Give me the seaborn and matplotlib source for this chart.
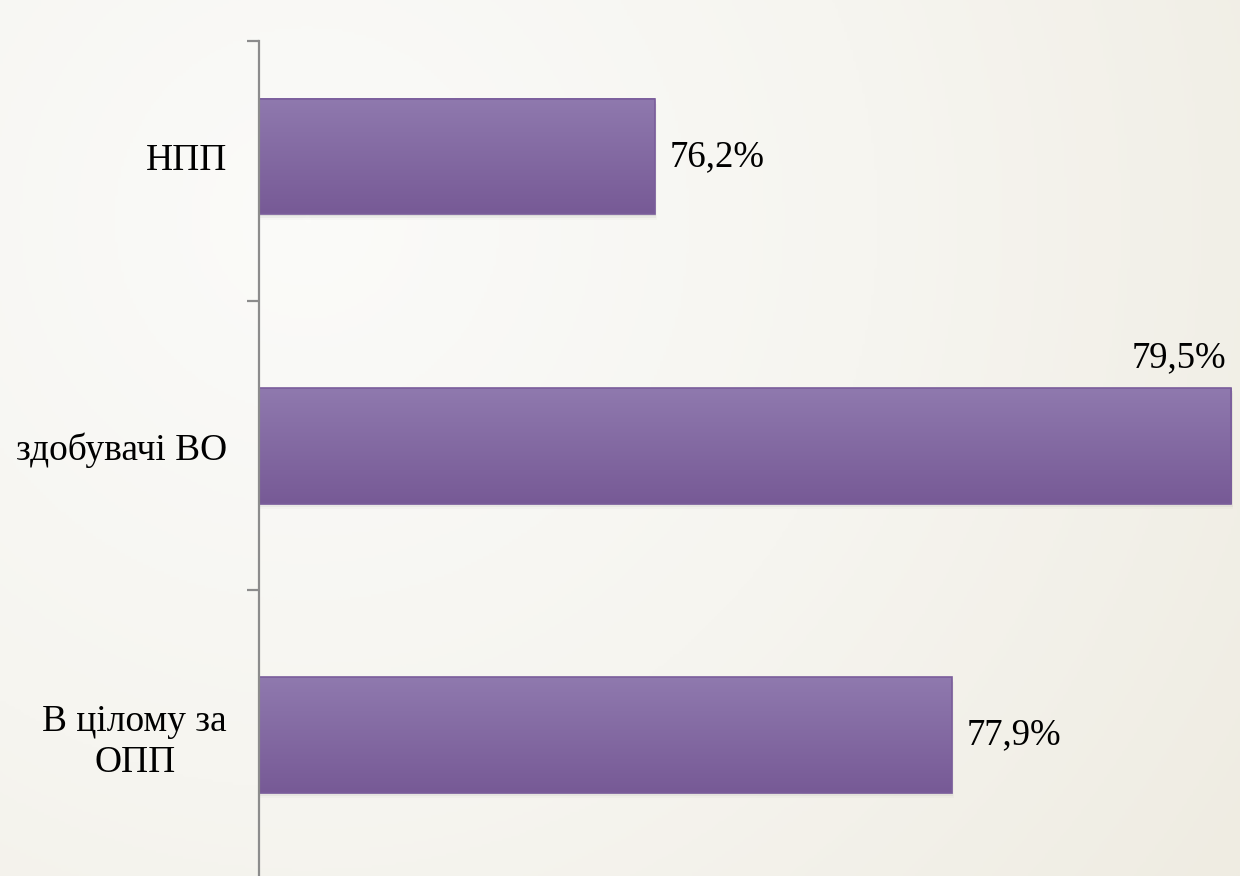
import numpy as np
import pandas as pd
import seaborn as sns
import matplotlib.pyplot as plt
from matplotlib.colors import LinearSegmentedColormap

# data
categories = ["НПП", "здобувачі ВО", "В цілому за\nОПП"]
values = [76.2, 79.5, 77.9]
value_labels = ["76,2%", "79,5%", "77,9%"]

df = pd.DataFrame({"category": categories, "value": values})

sns.set_theme(style="white")
plt.rcParams['font.family'] = ['Liberation Serif', 'DejaVu Serif']

fig = plt.figure(figsize=(12.4, 8.76), dpi=100)

# soft beige background with a light radial centre
bg = fig.add_axes([0, 0, 1, 1], zorder=-10)
yy, xx = np.mgrid[0:1:300j, 0:1.415:420j]
r = np.sqrt((xx - 0.35) ** 2 + (yy - 0.25) ** 2)
r = np.clip(r / r.max(), 0, 1)
bg_cmap = LinearSegmentedColormap.from_list("bg", ["#fbfbf9", "#f6f5f0", "#efece2"])
bg.imshow(r, cmap=bg_cmap, aspect="auto", extent=[0, 1, 1, 0])
bg.set_axis_off()

ax = fig.add_axes([259 / 1240, 0, 1 - 259 / 1240, (876 - 41) / 876])
ax.patch.set_alpha(0)

xmin, xmax = 73.933, 79.55

sns.barplot(data=df, x="value", y="category", orient="h", color="#82689f",
            width=0.4, ax=ax, saturation=1, edgecolor="none")

ax.set_xlim(xmin, xmax)
ax.set_ylim(2.488, -0.40)

# vertical purple gradient inside each bar, plus a faint shadow
grad = np.linspace(0, 1, 100).reshape(-1, 1)
bar_cmap = LinearSegmentedColormap.from_list("bar", ["#8f79ae", "#775a96"])
for p in list(ax.patches):
    x0, y0 = p.get_x(), p.get_y()
    w, h = p.get_width(), p.get_height()
    x1 = x0 + w
    x0 = max(x0, xmin)
    for k, a in enumerate([0.06, 0.04, 0.02]):
        d = 0.006 * (k + 1)
        ax.add_patch(plt.Rectangle((x0, y0 + d), x1 - x0 + 0.004 * (k + 1), h,
                                   color="#000000", alpha=a, zorder=1, lw=0))
    ax.imshow(grad, cmap=bar_cmap, aspect="auto",
              extent=[x0, x1, y0 + h, y0], zorder=3)
    ax.add_patch(plt.Rectangle((x0, y0), x1 - x0, h, fill=False, ec="#7a5d9b",
                               lw=1.2, zorder=4))
    p.set_visible(False)
ax.set_xlim(xmin, xmax)
ax.set_ylim(2.488, -0.40)

# value labels
for i, (v, lab) in enumerate(zip(values, value_labels)):
    if i == 1:
        ax.text(v - 0.03, i - 0.245, lab, ha="right", va="bottom", fontsize=26.5, color="black")
    else:
        ax.text(v + 0.085, i, lab, ha="left", va="center", fontsize=26.5, color="black")

# axes styling
for s in ["top", "right", "bottom"]:
    ax.spines[s].set_visible(False)
ax.spines["left"].set_color("#8c8c8c")
ax.spines["left"].set_linewidth(1.6)
ax.spines["left"].set_zorder(5)
ax.set_xticks([])
ax.set_xlabel("")
ax.set_ylabel("")
ax.set_yticks([0, 1, 2])
ax.set_yticklabels(categories, fontsize=27, multialignment="center", linespacing=1.25)
ax.tick_params(axis="y", which="major", length=0, pad=23, labelcolor="black")
ax.set_yticks([-0.40, 0.5, 1.5], minor=True)
ax.tick_params(axis="y", which="minor", left=True, length=9, width=1.6, color="#8c8c8c")

fig.savefig("out.png", dpi=100)
